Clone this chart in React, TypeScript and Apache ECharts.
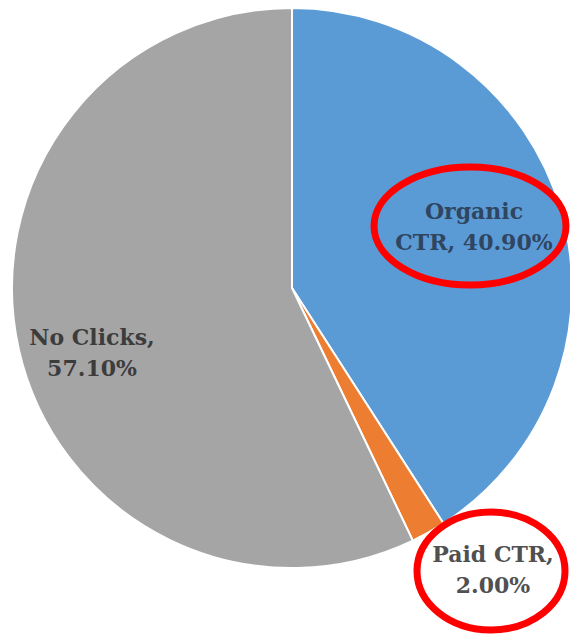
import React, { useEffect, useRef } from "react";
import * as echarts from "echarts";

const categories = ["Organic CTR", "Paid CTR", "No Clicks"];
const values = [40.9, 2.0, 57.1];
const colors = ["#5B9BD5", "#ED7D31", "#A5A5A5"];
const labelTexts = ["Organic\nCTR, 40.90%", "Paid CTR,\n2.00%", "No Clicks,\n57.10%"];
const labelPos = [
  [474, 226],
  [493, 569],
  [92, 352],
];
const labelColors = ["#2f4560", "#505050", "#3c3c3c"];

export default function App() {
  const ref = useRef<HTMLDivElement>(null);
  useEffect(() => {
    if (!ref.current) return;
    const chart = echarts.init(ref.current, null, { renderer: "svg" });
    chart.setOption({
      animation: false,
      backgroundColor: "#ffffff",
      series: [
        {
          type: "pie",
          center: [292, 288],
          radius: [0, 280],
          startAngle: 90,
          clockwise: true,
          avoidLabelOverlap: false,
          itemStyle: { borderColor: "#ffffff", borderWidth: 2 },
          labelLine: { show: false },
          label: {
            show: true,
            position: "inside",
            fontFamily: "DejaVu Serif",
            fontSize: 22,
            fontWeight: "bold",
            lineHeight: 31,
            align: "center",
            formatter: (p: any) => labelTexts[p.dataIndex],
          },
          labelLayout: (p: any) => ({
            x: labelPos[p.dataIndex][0],
            y: labelPos[p.dataIndex][1],
            align: "center",
            verticalAlign: "middle",
          }),
          data: categories.map((c, i) => ({
            name: c,
            value: values[i],
            itemStyle: { color: colors[i] },
            label: { color: labelColors[i] },
          })),
        },
      ],
      graphic: [
        {
          type: "ellipse",
          shape: { cx: 470, cy: 226, rx: 96, ry: 59 },
          style: { fill: "none", stroke: "#FF0000", lineWidth: 7 },
          z: 100,
        },
        {
          type: "ellipse",
          shape: { cx: 491, cy: 571, rx: 74, ry: 59 },
          style: { fill: "none", stroke: "#FF0000", lineWidth: 7 },
          z: 100,
        },
      ],
    });
    return () => chart.dispose();
  }, []);
  return (
    <div
      ref={ref}
      style={{ position: "fixed", left: 0, top: 0, width: 570, height: 637 }}
    />
  );
}
